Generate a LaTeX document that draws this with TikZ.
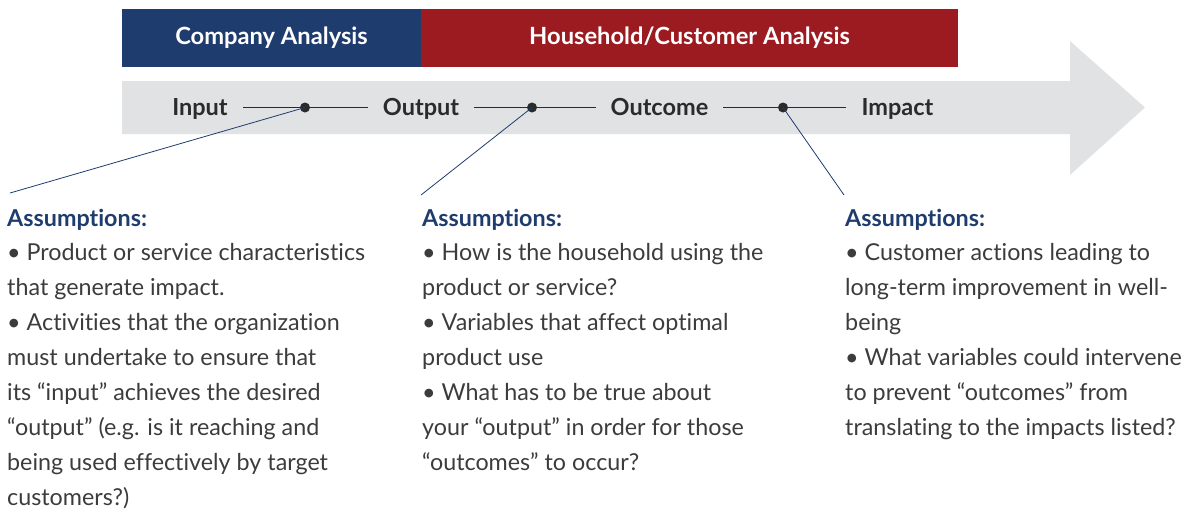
\documentclass[tikz,border=0pt]{standalone}
\usepackage{fontspec}
\setmainfont{Lato}[Ligatures=NoCommon]
\definecolor{cblue}{HTML}{1F3C6E}
\definecolor{cred}{HTML}{9B1B21}
\definecolor{cgray}{HTML}{E1E2E4}
\definecolor{ctext}{HTML}{3C3C3C}
\definecolor{cline}{HTML}{2B2B2B}
\tikzset{
  banner/.style={inner sep=0pt, minimum height=58pt, text=white, font=\fontsize{23.7}{28}\selectfont\bfseries},
  stage/.style={inner sep=0pt, anchor=base, text=cline, font=\fontsize{23.5}{28}\selectfont\bfseries},
  dotnode/.style={circle, fill=cline, inner sep=0pt, minimum size=10pt},
  link/.style={draw=cline, line width=1.1pt, shorten <=15pt, shorten >=15pt},
  callout/.style={draw=cblue, line width=0.8pt},
  block/.style={inner sep=0pt, anchor=base west, align=left, text=ctext, font=\fontsize{23.3}{34.9}\selectfont},
}
\newcommand{\heading}{\textcolor{cblue}{\bfseries Assumptions:}}
\begin{document}
\begin{tikzpicture}[x=1pt,y=-1pt]
\useasboundingbox (0,0) rectangle (1189,512);
% arrow band
\fill[cgray] (122,81) -- (1070,81) -- (1070,41) -- (1145,107.5) -- (1070,175) -- (1070,134) -- (122,134) -- cycle;
% banners
\node[banner, fill=cblue, minimum width=299pt] (ca) at (271.5,38) {Company Analysis};
\node[banner, fill=cred, minimum width=537pt] (ha) at (689.5,38) {Household/Customer Analysis};
% stages
\node[stage] (in) at (200,115) {Input};
\node[stage] (out) at (421,115) {Output};
\node[stage] (oc) at (659.5,115) {Outcome};
\node[stage] (im) at (897.5,115) {Impact};
\draw[link] (in.east |- 0,107.5) -- (out.west |- 0,107.5);
\draw[link] (out.east |- 0,107.5) -- (oc.west |- 0,107.5);
\draw[link] (oc.east |- 0,107.5) -- (im.west |- 0,107.5);
\node[dotnode] (d1) at (305,107.5) {};
\node[dotnode] (d2) at (532,107.5) {};
\node[dotnode] (d3) at (783,107.5) {};
% callouts
\coordinate (c1) at (10,193);
\coordinate (c2) at (421,195);
\coordinate (c3) at (844,195);
\draw[callout] (d1.center) -- (c1);
\draw[callout] (d2.center) -- (c2);
\draw[callout] (d3.center) -- (c3);
% text blocks (base anchor = last line's baseline)
\node[block] (t1) at (7,505.2) {\heading\\
• Product or service characteristics\\
that generate impact.\\
• Activities that the organization\\
must undertake to ensure that\\
its “input” achieves the desired\\
“output” (e.g. is it reaching and\\
being used effectively by target\\
customers?)};
\node[block] (t2) at (422,470.3) {\heading\\
• How is the household using the\\
product or service?\\
• Variables that affect optimal\\
product use\\
• What has to be true about\\
your “output” in order for those\\
“outcomes” to occur?};
\node[block] (t3) at (845,435.4) {\heading\\
• Customer actions leading to\\
long-term improvement in well-\\
being\\
• What variables could intervene\\
to prevent “outcomes” from\\
translating to the impacts listed?};
\end{tikzpicture}
\end{document}
